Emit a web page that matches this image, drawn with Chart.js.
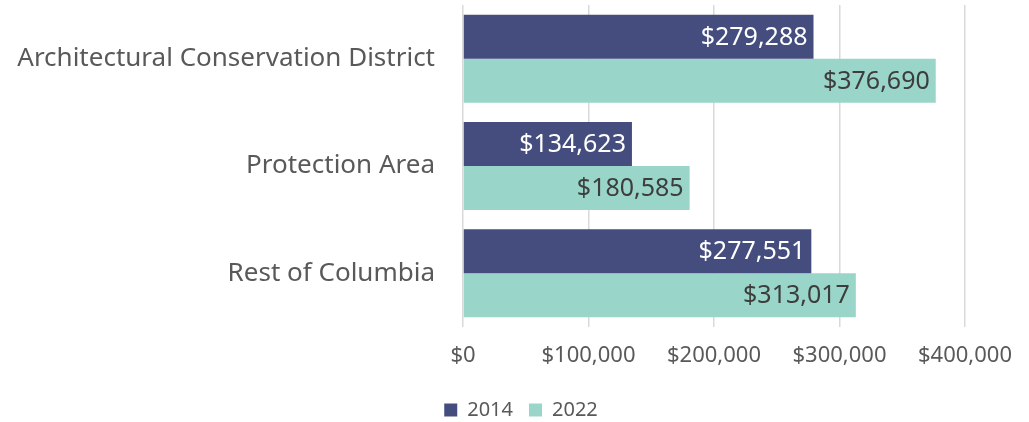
<!DOCTYPE html>
<html>
<head>
<meta charset="utf-8">
<script src="https://cdn.jsdelivr.net/npm/chart.js@4/dist/chart.umd.min.js"></script>
<style>
	html, body { margin: 0; padding: 0; background: #fff; }
	#wrap { width: 1029px; height: 422px; }
</style>
</head>
<body>
<div id="wrap"><canvas id="chart" width="1029" height="422"></canvas></div>
<script>
'use strict';

var categories = ['Architectural Conservation District', 'Protection Area', 'Rest of Columbia'];
var values2014 = [279288, 134623, 277551];
var values2022 = [376690, 180585, 313017];
var seriesLabels = ['2014', '2022'];
var tickValues = [0, 100000, 200000, 300000, 400000];

var fontFamily = '"Noto Sans", sans-serif';

function money(v) {
	return '$' + v.toLocaleString('en-US');
}

// Value labels drawn inside the end of each bar
var barLabels = {
	id: 'barLabels',
	afterDatasetsDraw: function(chart) {
		var ctx = chart.ctx;
		ctx.save();
		ctx.font = '25px ' + fontFamily;
		ctx.textAlign = 'right';
		ctx.textBaseline = 'middle';
		chart.data.datasets.forEach(function(ds, i) {
			var meta = chart.getDatasetMeta(i);
			ctx.fillStyle = i === 0 ? '#ffffff' : '#3d3d3d';
			meta.data.forEach(function(bar, j) {
				ctx.fillText(money(ds.data[j]), bar.x - 6, bar.y + 1);
			});
		});
		ctx.restore();
	}
};

// Pull the legend a bit lower and to the right of where Chart.js puts it
var legendShift = {
	id: 'legendShift',
	beforeInit: function(chart) {
		var fit = chart.legend.fit;
		chart.legend.fit = function() {
			fit.call(this);
			this.height -= 8;
		};
	},
	afterLayout: function(chart) {
		chart.legend.left += 77;
	}
};

new Chart(document.getElementById('chart'), {
	type: 'bar',
	data: {
		labels: categories,
		datasets: [ {
			label: seriesLabels[0],
			data: values2014,
			backgroundColor: '#454d7e'
		}, {
			label: seriesLabels[1],
			data: values2022,
			backgroundColor: '#99d6c9'
		} ]
	},
	options: {
		indexAxis: 'y',
		responsive: false,
		animation: false,
		layout: {
			padding: { top: 5, right: 64, bottom: 0, left: 0 }
		},
		datasets: {
			bar: {
				categoryPercentage: 0.82,
				barPercentage: 1.0
			}
		},
		scales: {
			x: {
				min: 0,
				max: 400000,
				afterBuildTicks: function(axis) {
					axis.ticks = tickValues.map(function(v) { return { value: v }; });
				},
				afterFit: function(axis) {
					axis.height = 57;
					axis.paddingLeft = 0;
					axis.paddingRight = 0;
				},
				grid: {
					color: '#d9d9d9',
					lineWidth: 1.5,
					drawTicks: false
				},
				border: { display: false },
				ticks: {
					color: '#595959',
					padding: 16,
					font: { family: fontFamily, size: 22 },
					maxRotation: 0,
					callback: function(v) { return money(v); }
				}
			},
			y: {
				grid: { display: false, drawTicks: false },
				border: { display: false },
				afterFit: function(axis) {
					axis.width = 463;
					axis.paddingTop = 0;
					axis.paddingBottom = 0;
				},
				ticks: {
					color: '#595959',
					padding: 28,
					font: { family: fontFamily, size: 26 }
				}
			}
		},
		plugins: {
			legend: {
				position: 'bottom',
				labels: {
					color: '#595959',
					boxWidth: 13,
					boxHeight: 13,
					padding: 16,
					font: { family: fontFamily, size: 20 }
				}
			},
			tooltip: { enabled: false }
		}
	},
	plugins: [ barLabels, legendShift ]
});
</script>
</body>
</html>
